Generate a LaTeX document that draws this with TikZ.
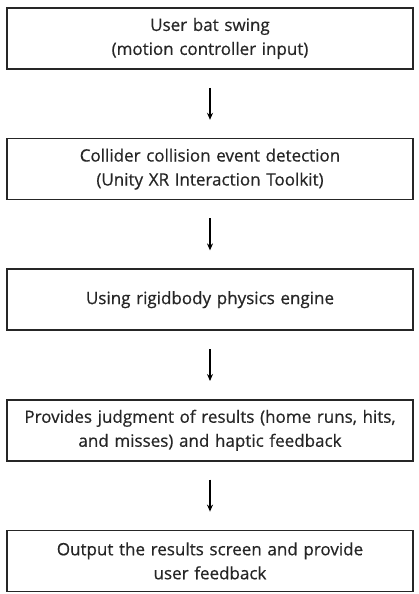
\documentclass[tikz,border=0pt]{standalone}
\usepackage{fontspec}
\setmainfont{Open Sans}
\usepackage{tikz}
\usetikzlibrary{positioning, arrows.meta}

\begin{document}
\begin{tikzpicture}[
		stepbox/.style={draw=black!85, line width=1.6pt, rectangle, minimum width=406pt, minimum height=61pt, text width=404pt, align=center, inner sep=0pt, text=black!85, font=\fontsize{17}{24}\selectfont\addfontfeatures{FakeBold=0.6}},
		node distance=68pt,
		>={Stealth[length=7pt, width=6pt]}
	]
		\useasboundingbox (0,0) rectangle (419pt,-594pt);
		\node[stepbox] (swing) at (210pt,-38.5pt) {User bat swing\\(motion controller input)};
		\node[stepbox, below=of swing] (collide) {Collider collision event detection\\(Unity XR Interaction Toolkit)};
		\node[stepbox, below=of collide] (physics) {Using rigidbody physics engine};
		\node[stepbox, below=of physics] (judge) {Provides judgment of results (home runs, hits,\\and misses) and haptic feedback};
		\node[stepbox, below=of judge] (output) {Output the results screen and provide\\user feedback};

		\draw[->, line width=1.3pt, shorten <=18pt, shorten >=18pt] (swing) edge (collide);
		\draw[->, line width=1.3pt, shorten <=18pt, shorten >=18pt] (collide) edge (physics);
		\draw[->, line width=1.3pt, shorten <=18pt, shorten >=18pt] (physics) edge (judge);
		\draw[->, line width=1.3pt, shorten <=18pt, shorten >=18pt] (judge) edge (output);
	\end{tikzpicture}
\end{document}
